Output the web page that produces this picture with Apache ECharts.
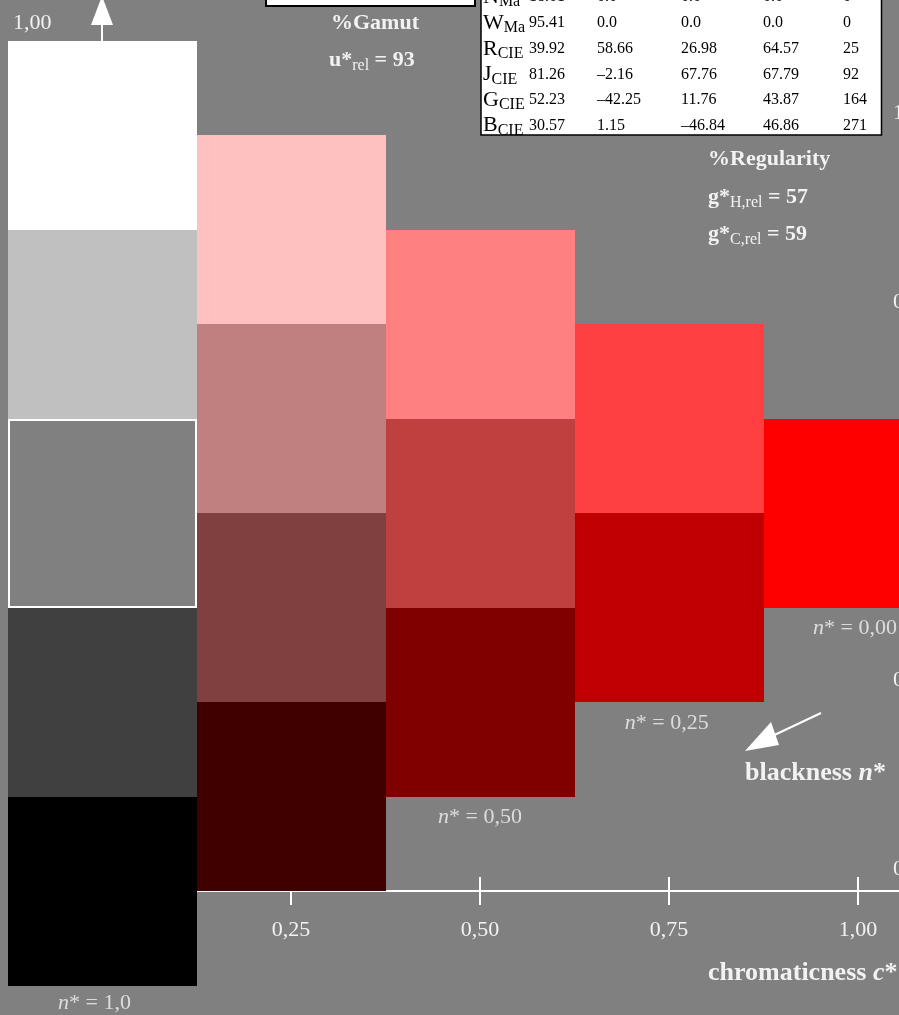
<!DOCTYPE html>
<html><head><meta charset="utf-8">
<script src="https://cdn.jsdelivr.net/npm/echarts@6/dist/echarts.min.js"></script>
<style>html,body{margin:0;padding:0;background:#808080}#c{width:899px;height:1015px}</style>
</head><body><div id="c"></div>
<script>
// ---- data ----
const chromaticness = [0,0,0,0,0, 0.25,0.25,0.25,0.25, 0.5,0.5,0.5, 0.75,0.75, 1.0];
const lightness     = [1,0.75,0.5,0.25,0, 0.875,0.625,0.375,0.125, 0.75,0.5,0.25, 0.625,0.375, 0.5];
const cellColors    = ['#ffffff','#c0c0c0','#808080','#404040','#000000',
                       '#ffc0c0','#c08080','#804040','#400000',
                       '#ff8080','#c04040','#800000',
                       '#ff4040','#c00000',
                       '#ff0000'];
const outlinedCell = 2;
const xTickValues = [0,0.25,0.5,0.75,1];
const xTickLabels = ['0,00','0,25','0,50','0,75','1,00'];
const yTickValues = [0,0.25,0.5,0.75,1];
const yTickLabels = ['0,00','0,25','0,50','0,75','1,00'];
const nLabels = ['1,0','0,50','0,25','0,00'];
const nLabelC = [-0.01, 0.5, 0.747, 0.996];
const nLabelY = [-0.149, 0.098, 0.222, 0.348];
const tableRows = ['N','W','R','J','G','B'];
const tableSubs = ['Ma','Ma','CIE','CIE','CIE','CIE'];
const tableL = ['18.01','95.41','39.92','81.26','52.23','30.57'];
const tableA = ['0.0','0.0','58.66','\u20132.16','\u201342.25','1.15'];
const tableB = ['0.0','0.0','26.98','67.76','11.76','\u201346.84'];
const tableC = ['0.0','0.0','64.57','67.79','43.87','46.86'];
const tableH = ['0','0','25','92','164','271'];
const gamutValue = '93';
const regH = '57', regC = '59';

// ---- helpers ----
const FF = '"Liberation Serif", "Times New Roman", serif';
const TXT = '#f2f2f2';
const cellSize = 0.25;
const mctx = document.createElement('canvas').getContext('2d');
function tw(t, size, bold, italic){
  mctx.font = (italic?'italic ':'') + (bold?'bold ':'') + size + 'px ' + FF;
  return mctx.measureText(t).width;
}
function runs(x, y, parts, color){
  const els = []; let cx = x;
  parts.forEach(p => {
    els.push({type:'text', x:cx, y:y + (p.dy||0), silent:true,
      style:{text:p.t, fill:color, fontSize:p.s, fontFamily:FF,
        fontWeight:p.b?'bold':'normal', fontStyle:p.i?'italic':'normal',
        align:'left', verticalAlign:'middle'}});
    cx += tw(p.t, p.s, p.b, p.i);
  });
  return els;
}

const graphics = [];
// top-left cut box
graphics.push({type:'rect', shape:{x:266, y:-40, width:209, height:46}, style:{fill:'#fff', stroke:'#000', lineWidth:2}, silent:true});
// table
graphics.push({type:'rect', shape:{x:481, y:-40, width:400.5, height:175}, style:{fill:'#fff', stroke:'#000', lineWidth:1.5}, silent:true});
const rowY = [-3, 23, 49, 74.5, 100, 125.5];
const colX = [529, 597, 681, 763, 843];
tableRows.forEach((r, i) => {
  graphics.push(...runs(483, rowY[i], [{t:r, s:22}, {t:tableSubs[i], s:16, dy:5}], '#000'));
  [tableL, tableA, tableB, tableC, tableH].forEach((col, j) => {
    graphics.push(...runs(colX[j], rowY[i], [{t:col[i], s:16}], '#000'));
  });
});
// annotations
graphics.push(...runs(331, 23, [{t:'%Gamut', s:22, b:true}], TXT));
graphics.push(...runs(329, 60, [{t:'u*', s:22, b:true}, {t:'rel', s:16, dy:6}, {t:' = ' + gamutValue, s:22, b:true}], TXT));
graphics.push(...runs(708, 159, [{t:'%Regularity', s:22, b:true}], TXT));
graphics.push(...runs(708, 197, [{t:'g*', s:22, b:true}, {t:'H,rel', s:16, dy:6}, {t:' = ' + regH, s:22, b:true}], TXT));
graphics.push(...runs(708, 234, [{t:'g*', s:22, b:true}, {t:'C,rel', s:16, dy:6}, {t:' = ' + regC, s:22, b:true}], TXT));
graphics.push(...runs(13, 23, [{t:'1,00', s:22}], TXT));
graphics.push(...runs(745, 773, [{t:'blackness ', s:26, b:true}, {t:'n', s:26, b:true, i:true}, {t:'*', s:26, b:true}], TXT));
graphics.push(...runs(708, 973, [{t:'chromaticness ', s:26, b:true}, {t:'c', s:26, b:true, i:true}, {t:'*', s:26, b:true}], TXT));
graphics.push({type:'line', shape:{x1:821, y1:713, x2:768, y2:738}, style:{stroke:'#fff', lineWidth:2}, silent:true});
graphics.push({type:'polygon', shape:{points:[[745,751],[771,722],[779,745]]}, style:{fill:'#fff'}, silent:true});

const cells = chromaticness.map((c, i) => ({
  value:[c, lightness[i]],
  itemStyle: i === outlinedCell ? {color:cellColors[i], borderColor:'#ffffff', borderWidth:2} : {color:cellColors[i], borderWidth:0}
}));

const xMax = 797/756, yMax = 891/756;
const chart = echarts.init(document.getElementById('c'), null, {renderer:'canvas'});
chart.setOption({
  backgroundColor:'#808080',
  animation:false,
  grid:{left:102, right:0, top:0, bottom:124, outerBoundsMode:'none', containLabel:false},
  xAxis:[{
    type:'value', min:0, max:xMax, interval:0.25, splitLine:{show:false},
    axisLine:{show:true, onZero:false, lineStyle:{color:'#fff', width:2}},
    axisTick:{show:true, inside:true, length:14, customValues:xTickValues, lineStyle:{color:'#fff', width:2}},
    axisLabel:{show:true, customValues:xTickValues, margin:28, color:TXT, fontSize:22, fontFamily:FF,
      formatter:v => { const k = xTickValues.findIndex(t => Math.abs(t - v) < 1e-6); return k < 0 ? '' : xTickLabels[k]; }}
  },{
    type:'value', min:0, max:xMax, interval:0.25, position:'bottom', splitLine:{show:false},
    axisLine:{show:false}, axisLabel:{show:false},
    axisTick:{show:true, inside:false, length:14, customValues:xTickValues, lineStyle:{color:'#fff', width:2}}
  }],
  yAxis:[{
    type:'value', min:0, max:yMax, interval:0.25, position:'left', splitLine:{show:false},
    axisLine:{show:true, onZero:false, symbol:['none','triangle'], symbolSize:[22,29], symbolOffset:[0,-10.5],
      lineStyle:{color:'#fff', width:2}},
    axisTick:{show:false}, axisLabel:{show:false}
  },{
    type:'value', min:0, max:yMax, interval:0.25, position:'right', offset:-6, splitLine:{show:false},
    axisLine:{show:false}, axisTick:{show:false},
    axisLabel:{show:true, customValues:yTickValues, margin:0, color:TXT, fontSize:22, fontFamily:FF,
      align:'left', verticalAlign:'middle', lineHeight:44,
      formatter:v => { const k = yTickValues.findIndex(t => Math.abs(t - v) < 1e-6); return k < 0 ? '' : yTickLabels[k] + '\n '; }}
  }],
  series:[{
    type:'custom', clip:false, silent:true, xAxisIndex:0, yAxisIndex:0,
    data:cells,
    renderItem:(params, api) => {
      const c = api.value(0), y = api.value(1), h = cellSize/2;
      const p0 = api.coord([c - h, y + h]).map(Math.round);
      const p1 = api.coord([c + h, y - h]).map(Math.round);
      const st = api.style();
      const bw = st.lineWidth || 0;
      const ins = bw ? bw/2 : 0;
      return {type:'rect',
        shape:{x:p0[0] + ins, y:p0[1] + ins, width:p1[0] - p0[0] - 2*ins, height:p1[1] - p0[1] - 2*ins},
        style:{fill:st.fill, stroke: bw ? st.stroke : null, lineWidth: bw}};
    }
  },{
    type:'scatter', clip:false, silent:true, symbolSize:1, itemStyle:{color:'rgba(0,0,0,0)'},
    data:nLabels.map((t, i) => [nLabelC[i], nLabelY[i]]),
    label:{show:true, position:'inside',
      formatter:p => '{i|n}{r|* = ' + nLabels[p.dataIndex] + '}',
      rich:{i:{fontStyle:'italic', fontSize:22, fontFamily:FF, color:TXT},
            r:{fontSize:22, fontFamily:FF, color:TXT}}}
  }],
  graphic:graphics
});
</script></body></html>
